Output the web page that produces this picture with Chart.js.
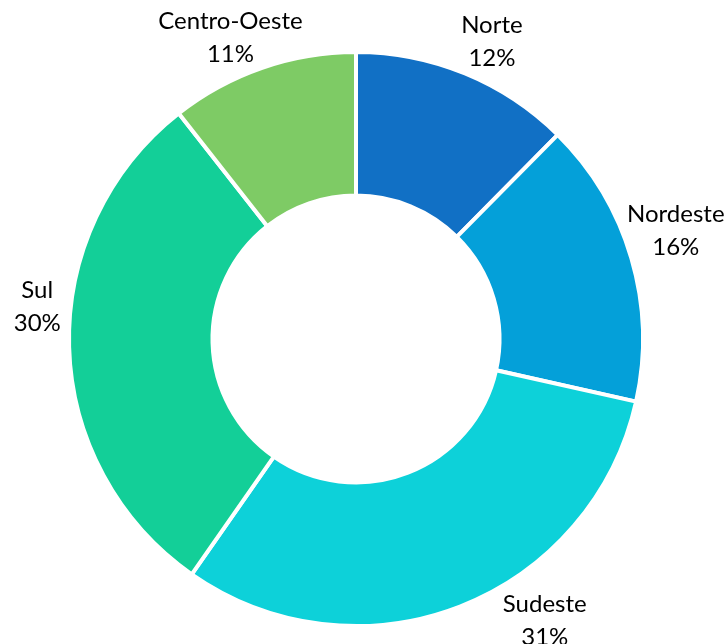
<!DOCTYPE html>
<html>
<head>
<meta charset="utf-8">
<script src="https://cdn.jsdelivr.net/npm/chart.js@4/dist/chart.umd.min.js"></script>
<style>
    html, body { margin: 0; padding: 0; background: #ffffff; }
    #wrap { width: 726px; height: 644px; }
</style>
</head>
<body>
<div id="wrap"><canvas id="chart1" width="726" height="644"></canvas></div>
<script>
// Regional shares (%), labels show the rounded value
const regions = ['Norte', 'Nordeste', 'Sudeste', 'Sul', 'Centro-Oeste'];
const shares = [12.4, 16.1, 31.2, 29.7, 10.6];
const sliceColors = ['#1170C5', '#04A0D9', '#0DD1D9', '#13CF98', '#7ECB65'];

const labelFont = '24px Lato';
const lineGap = 33;   // baseline to baseline
const capHeight = 17;
const labelGap = 8;   // distance between text and ring

// Draws "name / pct%" outside each slice, pushed out until it clears the ring
const outsideLabels = {
    id: 'outsideLabels',
    afterDatasetsDraw(chart, args, opts) {
        const ctx = chart.ctx;
        const meta = chart.getDatasetMeta(0);
        const H = chart.height;
        const nudge = opts.nudge || [];
        ctx.save();
        ctx.font = labelFont;
        ctx.fillStyle = '#000000';
        ctx.textAlign = 'center';
        ctx.textBaseline = 'alphabetic';

        meta.data.forEach((arc, i) => {
            const p = arc.getProps(['x', 'y', 'startAngle', 'endAngle', 'outerRadius'], true);
            const mid = (p.startAngle + p.endAngle) / 2 + (nudge[i] || 0) * Math.PI / 180;
            const dx = Math.cos(mid), dy = Math.sin(mid);
            const lines = [regions[i], Math.round(shares[i]) + '%'];
            const w = lines.map(t => ctx.measureText(t).width);
            const half = (capHeight + lineGap) / 2;

            const minDist = (cx, cy) => {
                const boxes = [
                    [cx - w[0] / 2, cy - half, cx + w[0] / 2, cy - half + capHeight],
                    [cx - w[1] / 2, cy + half - capHeight, cx + w[1] / 2, cy + half]
                ];
                let best = Infinity;
                boxes.forEach(b => {
                    const ex = Math.max(b[0] - p.x, 0, p.x - b[2]);
                    const ey = Math.max(b[1] - p.y, 0, p.y - b[3]);
                    best = Math.min(best, Math.hypot(ex, ey));
                });
                return best;
            };

            const target = p.outerRadius + labelGap;
            let d = p.outerRadius;
            let cx = p.x + d * dx, cy = p.y + d * dy;
            while (minDist(cx, cy) < target && d < p.outerRadius + 300) {
                d += 0.5;
                cx = p.x + d * dx;
                cy = p.y + d * dy;
            }
            // keep the block on the canvas vertically, then slide sideways
            if (cy + half > H + 1) {
                cy = H + 1 - half;
                const sx = dx >= 0 ? 1 : -1;
                while (minDist(cx, cy) < target) cx += sx * 0.5;
            }
            ctx.fillText(lines[0], cx, cy - half + capHeight);
            ctx.fillText(lines[1], cx, cy + half);
        });
        ctx.restore();
    }
};

document.fonts.load(labelFont).then(() => {
    const ctx1 = document.getElementById('chart1').getContext('2d');
    new Chart(ctx1, {
        type: 'doughnut',
        data: {
            labels: regions,
            datasets: [{
                data: shares,
                backgroundColor: sliceColors,
                borderColor: '#ffffff',
                borderWidth: 4
            }]
        },
        options: {
            responsive: false,
            animation: false,
            cutout: '50%',
            layout: {
                padding: { left: 67, top: 50, right: 81, bottom: 16 }
            },
            plugins: {
                legend: { display: false },
                tooltip: { enabled: false },
                outsideLabels: { nudge: [2.2, -2.5, 0, 7.6, -3.5] }
            }
        },
        plugins: [outsideLabels]
    });
});
</script>
</body>
</html>
